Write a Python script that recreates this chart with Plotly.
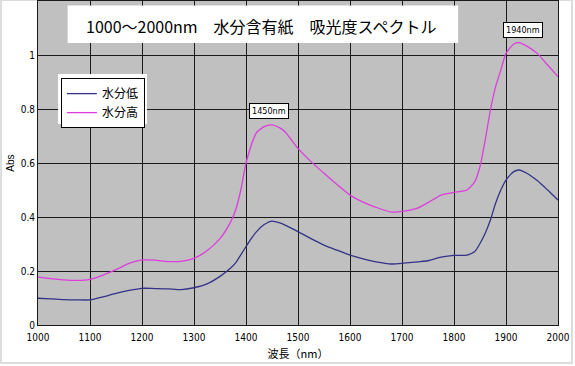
import plotly.graph_objects as go

wavelength = [1000, 1025, 1050, 1075, 1100, 1125, 1150, 1175, 1200, 1225, 1250, 1275,
              1300, 1325, 1350, 1370, 1380, 1390, 1400, 1410, 1420, 1435, 1450, 1465,
              1475, 1500, 1525, 1550, 1575, 1600, 1625, 1650, 1680, 1700, 1730, 1750,
              1775, 1800, 1825, 1840, 1850, 1860, 1870, 1880, 1890, 1900, 1915, 1925,
              1940, 1960, 1980, 2000]

abs_high = [0.177, 0.172, 0.167, 0.165, 0.169, 0.185, 0.205, 0.228, 0.241, 0.240, 0.235, 0.236,
            0.247, 0.275, 0.320, 0.380, 0.426, 0.500, 0.600, 0.665, 0.712, 0.735, 0.741, 0.730,
            0.716, 0.654, 0.605, 0.562, 0.520, 0.481, 0.455, 0.436, 0.418, 0.421, 0.433, 0.453,
            0.481, 0.491, 0.500, 0.531, 0.587, 0.685, 0.796, 0.883, 0.944, 1.006, 1.041, 1.046,
            1.033, 1.006, 0.963, 0.920]

abs_low = [0.099, 0.097, 0.094, 0.093, 0.093, 0.104, 0.117, 0.128, 0.136, 0.135, 0.134, 0.131,
           0.138, 0.152, 0.180, 0.210, 0.230, 0.260, 0.290, 0.320, 0.345, 0.372, 0.385, 0.378,
           0.370, 0.346, 0.320, 0.296, 0.277, 0.259, 0.245, 0.234, 0.226, 0.228, 0.234, 0.238,
           0.251, 0.258, 0.259, 0.272, 0.302, 0.340, 0.389, 0.451, 0.500, 0.537, 0.568, 0.574,
           0.562, 0.535, 0.500, 0.463]

x_ticks = [1000, 1100, 1200, 1300, 1400, 1500, 1600, 1700, 1800, 1900, 2000]
y_ticks = [0, 0.2, 0.4, 0.6, 0.8, 1]
y_tick_labels = ["0", "0.2", "0.4", "0.6", "0.8", "1"]

series_names = ["水分低", "水分高"]
title_text = "1000～2000nm　水分含有紙　吸光度スペクトル"
peak_labels = [(1444, 0.793, "1450nm"), (1933, 1.093, "1940nm")]

NARROW = "Liberation Sans Narrow, DejaVu Sans Condensed, sans-serif"
CJK = "Noto Sans CJK JP, sans-serif"

fig = go.Figure()
fig.add_trace(go.Scatter(x=wavelength, y=abs_low, mode="lines", name=series_names[0],
                         line=dict(color="#333388", width=1.3, shape="spline", smoothing=0.6)))
fig.add_trace(go.Scatter(x=wavelength, y=abs_high, mode="lines", name=series_names[1],
                         line=dict(color="#dd3ddd", width=1.3, shape="spline", smoothing=0.6)))

shapes = [
    # outer light frame
    dict(type="rect", xref="paper", yref="paper", x0=-0.071, x1=1.027, y0=-0.117, y1=1.003,
         line=dict(color="#dcdcdc", width=2), fillcolor="rgba(0,0,0,0)", layer="below"),
    # title white box
    dict(type="rect", xref="x", yref="y", x0=1057, x1=1808, y0=1.044, y1=1.183,
         line=dict(width=0), fillcolor="white", layer="above"),
    # legend white margin
    dict(type="rect", xref="x", yref="y", x0=1038.5, x1=1209.6, y0=0.744, y1=0.93,
         line=dict(width=0), fillcolor="white", layer="above"),
]

annotations = [
    dict(x=1429, y=1.107, xref="x", yref="y", text=title_text, showarrow=False,
         font=dict(family=CJK, size=16, color="black")),
]
for px, py, txt in peak_labels:
    annotations.append(dict(x=px, y=py, xref="x", yref="y", text=txt, showarrow=False,
                            font=dict(family=NARROW, size=9, color="black"),
                            bgcolor="white", bordercolor="black", borderwidth=1, borderpad=2))

fig.update_layout(
    width=575, height=366,
    margin=dict(l=38, r=17, t=1, b=41),
    paper_bgcolor="white",
    plot_bgcolor="#c0c0c0",
    showlegend=True,
    legend=dict(x=0.044, y=0.762, xanchor="left", yanchor="top",
                bgcolor="white", bordercolor="black", borderwidth=1,
                font=dict(family=CJK, size=12, color="black"),
                itemwidth=30, tracegroupgap=2),
    shapes=shapes,
    annotations=annotations,
    xaxis=dict(range=[1000, 2000], tickvals=x_ticks, ticktext=[str(v) for v in x_ticks],
               showgrid=True, gridcolor="#1a1a1a", gridwidth=1,
               showline=True, linecolor="#1a1a1a", linewidth=1, mirror=True,
               zeroline=False, ticks="outside", ticklen=3, tickcolor="rgba(0,0,0,0)",
               automargin=False,
               tickfont=dict(family=NARROW, size=10, color="black"),
               title=dict(text="波長（nm）", font=dict(family=CJK, size=11, color="black"), standoff=8)),
    yaxis=dict(range=[0, 1.2], tickvals=y_ticks, ticktext=y_tick_labels,
               showgrid=True, gridcolor="#1a1a1a", gridwidth=1,
               showline=True, linecolor="#1a1a1a", linewidth=1, mirror=True,
               zeroline=False, ticks="", automargin=False,
               tickfont=dict(family=NARROW, size=10, color="black"),
               title=dict(text="Abs", font=dict(family="Liberation Sans, sans-serif", size=10, color="black"), standoff=4)),
)

fig.write_html("out.html", config={"displayModeBar": False},
               post_script="document.body.style.margin='0';document.body.style.overflow='hidden';")
